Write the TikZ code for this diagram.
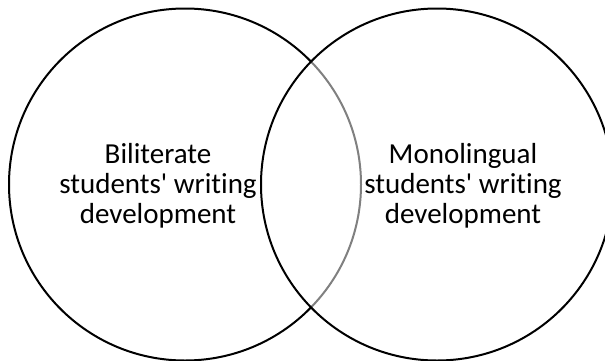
\documentclass[tikz,border=0pt]{standalone}
\usepackage{fontspec}
\setmainfont{Carlito}[Ligatures={NoCommon}]
\usepackage{tikz}
\usetikzlibrary{positioning}

\tikzset{
    ring/.style={draw=black, line width=1pt},
    vtext/.style={align=center, font=\fontsize{14.5}{15}\selectfont, inner sep=0pt}
}

\begin{document}
\begin{tikzpicture}[x=0.5pt,y=-0.5pt,auto]
    \useasboundingbox (0,0) rectangle (605,360);
    \draw[ring] (185,184.5) circle (88pt);
    \draw[ring, fill=white, fill opacity=0.5] (437,184.5) circle (88pt);
    \node[vtext] (bili) at (158,186) {Biliterate\\students\textquotesingle{} writing\\development};
    \node[vtext] (mono) at (463,186) {Monolingual\\students\textquotesingle{} writing\\development};
\end{tikzpicture}
\end{document}
